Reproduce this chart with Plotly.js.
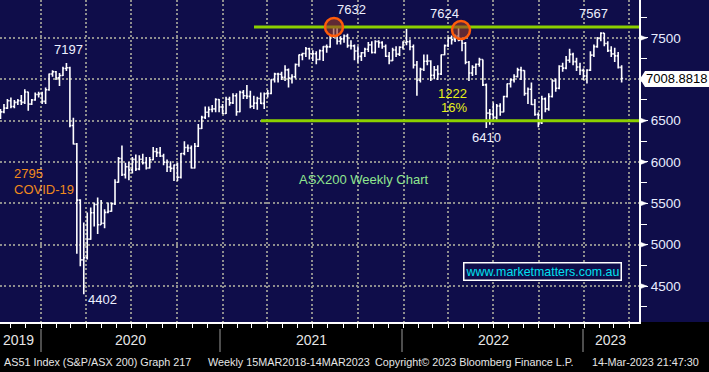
<!DOCTYPE html>
<html>
<head>
<meta charset="utf-8">
<script src="https://cdn.plot.ly/plotly-3.0.1.min.js"></script>
<style>html,body{margin:0;padding:0;background:#000;}#chart{width:709px;height:372px;}</style>
</head>
<body>
<div id="chart"></div>
<script>
// Weekly bars (Friday dates)
const dates = [
'2019-10-11','2019-10-18','2019-10-25','2019-11-01','2019-11-08','2019-11-15','2019-11-22','2019-11-29','2019-12-06','2019-12-13','2019-12-20','2019-12-27',
'2020-01-03','2020-01-10','2020-01-17','2020-01-24','2020-01-31','2020-02-07','2020-02-14','2020-02-21','2020-02-28','2020-03-06','2020-03-13','2020-03-20','2020-03-27',
'2020-04-03','2020-04-10','2020-04-17','2020-04-24','2020-05-01','2020-05-08','2020-05-15','2020-05-22','2020-05-29','2020-06-05','2020-06-12','2020-06-19','2020-06-26',
'2020-07-03','2020-07-10','2020-07-17','2020-07-24','2020-07-31','2020-08-07','2020-08-14','2020-08-21','2020-08-28','2020-09-04','2020-09-11','2020-09-18','2020-09-25',
'2020-10-02','2020-10-09','2020-10-16','2020-10-23','2020-10-30','2020-11-06','2020-11-13','2020-11-20','2020-11-27','2020-12-04','2020-12-11','2020-12-18','2020-12-25',
'2021-01-01','2021-01-08','2021-01-15','2021-01-22','2021-01-29','2021-02-05','2021-02-12','2021-02-19','2021-02-26','2021-03-05','2021-03-12','2021-03-19','2021-03-26',
'2021-04-02','2021-04-09','2021-04-16','2021-04-23','2021-04-30','2021-05-07','2021-05-14','2021-05-21','2021-05-28','2021-06-04','2021-06-11','2021-06-18','2021-06-25',
'2021-07-02','2021-07-09','2021-07-16','2021-07-23','2021-07-30','2021-08-06','2021-08-13','2021-08-20','2021-08-27','2021-09-03','2021-09-10','2021-09-17','2021-09-24',
'2021-10-01','2021-10-08','2021-10-15','2021-10-22','2021-10-29','2021-11-05','2021-11-12','2021-11-19','2021-11-26','2021-12-03','2021-12-10','2021-12-17','2021-12-24','2021-12-31',
'2022-01-07','2022-01-14','2022-01-21','2022-01-28','2022-02-04','2022-02-11','2022-02-18','2022-02-25','2022-03-04','2022-03-11','2022-03-18','2022-03-25',
'2022-04-01','2022-04-08','2022-04-15','2022-04-22','2022-04-29','2022-05-06','2022-05-13','2022-05-20','2022-05-27','2022-06-03','2022-06-10','2022-06-17','2022-06-24',
'2022-07-01','2022-07-08','2022-07-15','2022-07-22','2022-07-29','2022-08-05','2022-08-12','2022-08-19','2022-08-26','2022-09-02','2022-09-09','2022-09-16','2022-09-23','2022-09-30',
'2022-10-07','2022-10-14','2022-10-21','2022-10-28','2022-11-04','2022-11-11','2022-11-18','2022-11-25','2022-12-02','2022-12-09','2022-12-16','2022-12-23','2022-12-30',
'2023-01-06','2023-01-13','2023-01-20','2023-01-27','2023-02-03','2023-02-10','2023-02-17','2023-02-24','2023-03-03','2023-03-10','2023-03-17'
];
const opens = [
6560,6606,6651,6741,6670,6720,6740,6720,6846,6700,6750,6816,
6821,6733,6874,7064,7090,7017,7045,7130,7139,6441,6217,5539,4817,
4842,5068,5387,5487,5242,5260,5391,5405,5497,5756,6043,5847,5942,
5905,6032,5916,6033,5990,5928,6028,6126,6113,6073,5996,5939,5923,
5964,5815,6102,6176,6170,5927,6190,6405,6539,6601,6635,6642,6756,
6665,6587,6758,6715,6800,6607,6841,6800,6793,6673,6711,6767,6708,
6824,6828,6995,7063,7060,7025,7114,7014,7030,7179,7295,7312,7369,
7308,7309,7239,7345,7394,7392,7523,7628,7460,7488,7522,7406,7403,
7342,7276,7320,7362,7415,7324,7457,7443,7396,7279,7225,7354,7304,7387,
7444,7453,7393,7173,6988,7120,7217,7221,7049,7113,7064,7296,
7406,7499,7478,7523,7473,7435,7205,7075,7146,7182,7238,6932,6591,
6578,6539,6676,6605,6791,6945,6993,7033,7114,7105,6828,6879,6695,6574,
6474,6763,6642,6791,6980,6892,7158,7135,7229,7301,7213,7148,7107,
7039,7110,7292,7395,7493,7558,7433,7346,7307,7283,7144
];
const highs = [
6640,6700,6760,6780,6750,6760,6810,6880,6850,6760,6840,6850,
6850,6900,7070,7110,7100,7075,7150,7197,7150,6536,6230,5550,5270,
5390,5450,5510,5570,5540,5430,5510,5510,5790,6060,6200,5990,6000,
6060,6090,6080,6100,6060,6060,6180,6170,6180,6100,6030,6010,5970,
5990,6110,6250,6210,6200,6230,6460,6560,6670,6670,6690,6770,6760,
6700,6790,6790,6830,6830,6860,6870,6930,6860,6800,6790,6840,6840,
6870,7000,7080,7080,7090,7170,7130,7060,7190,7300,7320,7390,7380,
7350,7340,7360,7400,7420,7540,7632,7630,7520,7540,7550,7470,7420,
7400,7330,7380,7450,7460,7470,7470,7460,7420,7330,7380,7400,7400,7460,
7610,7480,7420,7220,7140,7300,7300,7230,7160,7170,7300,7420,
7510,7530,7540,7624,7500,7450,7220,7170,7190,7260,7240,6950,6640,
6720,6700,6710,6800,6950,7010,7060,7140,7150,7110,6900,6960,6760,6600,
6800,6780,6830,7000,7010,7170,7200,7280,7370,7320,7260,7200,7130,
7120,7340,7420,7510,7567,7560,7460,7400,7380,7330,7170
];
const lows = [
6520,6590,6640,6650,6650,6690,6690,6700,6620,6690,6740,6780,
6700,6700,6860,7030,6990,6920,7040,7100,6420,6210,4890,4740,4402,
4820,5060,5220,5130,5240,5200,5380,5400,5480,5750,5830,5800,5780,
5860,5890,5900,5970,5910,5920,6020,6060,6060,5960,5880,5880,5770,
5770,5800,6080,6120,5920,5920,6180,6400,6520,6540,6600,6600,6600,
6580,6580,6680,6700,6560,6600,6760,6760,6650,6640,6630,6700,6640,
6780,6820,6960,6960,6990,6980,6900,6950,7010,7150,7230,7270,7240,
7220,7180,7230,7220,7320,7380,7500,7420,7420,7440,7380,7360,7230,
7200,7220,7270,7330,7310,7310,7380,7370,7270,7180,7220,7270,7280,7360,
7410,7350,7130,6800,6960,7100,7170,6980,7000,6990,7050,7290,
7390,7420,7450,7460,7340,7180,6980,7040,7050,7150,6920,6410,6450,
6500,6510,6560,6600,6780,6900,6960,7020,6990,6800,6700,6690,6560,6420,
6460,6600,6620,6780,6850,6880,7090,7120,7200,7170,7100,7050,6990,
6950,7100,7270,7380,7460,7400,7330,7270,7210,7130,6960
];
const closes = [
6606,6651,6741,6670,6720,6740,6720,6846,6700,6750,6816,6821,
6733,6874,7064,7090,7017,7045,7130,7139,6441,6217,5539,4817,4842,
5068,5387,5487,5242,5260,5391,5405,5497,5756,6043,5847,5942,5905,
6032,5916,6033,5990,5928,6028,6126,6113,6073,5996,5939,5923,5964,
5815,6102,6176,6170,5927,6190,6405,6539,6601,6635,6642,6756,6665,
6587,6758,6715,6800,6607,6841,6800,6793,6673,6711,6767,6708,6824,
6828,6995,7063,7060,7025,7114,7014,7030,7179,7295,7312,7369,7308,
7309,7239,7345,7394,7392,7523,7628,7460,7488,7522,7406,7403,7342,
7276,7320,7362,7415,7324,7457,7443,7396,7279,7225,7354,7304,7387,7444,
7453,7393,7173,6988,7120,7217,7221,7049,7113,7064,7296,7406,
7499,7478,7523,7473,7435,7205,7075,7146,7182,7238,6932,6591,6578,
6539,6676,6605,6791,6945,6993,7033,7114,7105,6828,6879,6695,6574,6474,
6763,6642,6791,6980,6892,7158,7135,7229,7301,7213,7148,7107,7039,
7110,7292,7395,7493,7558,7433,7346,7307,7283,7144,7009
];

// Labels / reference levels
const lastPrice = 7008.8818;
const resistance = 7632;
const support = 6500;
const yTickVals = [4500, 5000, 5500, 6000, 6500, 7000, 7500];
const yTickText = ['4500', '5000', '5500', '6000', '6500', '', '7500'];
const yearLabels = ['2019', '2020', '2021', '2022', '2023'];
const peakLabels = ['7197', '7632', '7624', '7567', '6410', '4402'];
const footerParts = ['AS51 Index (S&P/ASX 200) Graph 217', 'Weekly 15MAR2018-14MAR2023', 'Copyright\u00a9 2023 Bloomberg Finance L.P.', '14-Mar-2023 21:47:30'];

// pixel helpers (plot area 639 x 322)
const PW = 639, PH = 322;
const px = x => x / PW;
const py = y => 1 - y / PH;

const numPos = [[68,49],[351,10],[445,13],[593,13],[486,137],[102,299]];
const annotations = [];
peakLabels.forEach((t,i)=>{
  annotations.push({xref:'paper',yref:'paper',x:px(numPos[i][0]),y:py(numPos[i][1]),text:t,showarrow:false,
    xanchor:'center',yanchor:'middle',font:{family:'Liberation Sans, Arial',size:13,color:'#eef0ff'}});
});
const txt = (t,x,y,color,anchor,size)=>annotations.push({xref:'paper',yref:'paper',x:px(x),y:py(y),text:t,showarrow:false,
  xanchor:anchor||'center',yanchor:'middle',font:{family:'Liberation Sans, Arial',size:size||13,color:color}});
txt('2795',12,173,'#f08a1c','left');
txt('COVID-19',12,189,'#f08a1c','left');
txt(String(7632-6410),452,93,'#e8f018','center');
txt('16%',439,108,'#e8f018','left');
txt('ASX200 Weekly Chart',363,179,'#8fe68f','center');
annotations.push({xref:'paper',yref:'paper',x:px(542),y:py(271),text:'www.marketmatters.com.au',showarrow:false,
  xanchor:'center',yanchor:'middle',bgcolor:'#0f0d4a',bordercolor:'#ffffff',borderwidth:1.5,borderpad:1,
  font:{family:'Liberation Sans, Arial',size:12.4,color:'#00e0f0'}});
// price tag text
annotations.push({xref:'paper',yref:'y',x:px(676),y:lastPrice,text:lastPrice.toFixed(4),showarrow:false,
  xanchor:'center',yanchor:'middle',font:{family:'Liberation Sans, Arial',size:13,color:'#000000'}});
// year labels
const yearX = [18,130,311,493,610];
yearLabels.forEach((t,i)=>annotations.push({xref:'paper',yref:'paper',x:px(yearX[i]),y:py(340),text:t,showarrow:false,
  xanchor:'center',yanchor:'middle',font:{family:'Liberation Sans, Arial',size:14,color:'#e6e6e6'}}));
// footer pieces
const footerX = [2,206,373,590];
const footerW = [195,158,207,115];
footerParts.forEach((t,i)=>annotations.push({xref:'paper',yref:'paper',x:px(footerX[i]),y:py(362),showarrow:false,
  xanchor:'left',yanchor:'middle',align:'left',text:t,font:{family:'Liberation Sans, Arial',size:10.8,color:'#e6e6e6'}}));

const shapes = [];
shapes.push({type:'rect',xref:'paper',yref:'paper',x0:1,x1:px(709),y0:0,y1:1,fillcolor:'#0f0d4a',line:{width:0},layer:'below'});
shapes.push({type:'line',xref:'paper',yref:'y',x0:px(254),x1:1,y0:resistance,y1:resistance,line:{color:'#8cd000',width:3}});
shapes.push({type:'line',xref:'paper',yref:'y',x0:px(261),x1:1,y0:support,y1:support,line:{color:'#8cd000',width:3}});
[[334,27],[461,30]].forEach(c=>shapes.push({type:'circle',xref:'paper',yref:'paper',x0:px(c[0]-9),x1:px(c[0]+9),y0:py(c[1]+9),y1:py(c[1]-9),
  fillcolor:'rgba(150,60,40,0.6)',line:{color:'#ff5c0a',width:2.5}}));
[41,220,402,583].forEach(x=>shapes.push({type:'line',xref:'paper',yref:'paper',x0:px(x),x1:px(x),y0:py(329),y1:py(352),line:{color:'#9a9a9a',width:1}}));
yTickVals.forEach(v=>shapes.push({type:'path',xref:'paper',yref:'y',
  path:`M ${px(640)},${v+32} L ${px(640)},${v-32} L ${px(647)},${v} Z`,fillcolor:'#ffffff',line:{color:'#ffffff',width:0.5}}));
shapes.push({type:'path',xref:'paper',yref:'paper',
  path:`M ${px(640)},${py(79)} L ${px(645)},${py(71)} L ${px(709)},${py(71)} L ${px(709)},${py(87)} L ${px(645)},${py(87)} Z`,
  fillcolor:'#ffffff',line:{color:'#ffffff',width:0}});

const trace = {
  type:'ohlc', x:dates, open:opens, high:highs, low:lows, close:closes,
  increasing:{line:{color:'#ffffff',width:1.6}}, decreasing:{line:{color:'#ffffff',width:1.6}},
  tickwidth:0.42, hoverinfo:'skip', showlegend:false
};

const grid = {gridcolor:'#8e8e8e', griddash:'2px,2.4px', gridwidth:2};
const layout = {
  width:709, height:372, margin:{l:0,r:70,t:0,b:50},
  paper_bgcolor:'#000000', plot_bgcolor:'#0f0d4a', showlegend:false,
  xaxis:Object.assign({type:'date', range:['2019-10-10','2023-04-21'], showgrid:true, tick0:'2020-01-01', dtick:'M3',
    ticks:'outside', ticklen:4, tickcolor:'#ffffff', tickwidth:1, showticklabels:false,
    showline:true, linecolor:'#ffffff', linewidth:2, zeroline:false, rangeslider:{visible:false}, fixedrange:true,
    minor:{dtick:'M1', tick0:'2020-01-01', ticks:'outside', ticklen:4, tickcolor:'#ffffff', tickwidth:1, showgrid:false}}, grid),
  yaxis:Object.assign({side:'right', range:[4066,7958], tickvals:yTickVals, ticktext:yTickText, showgrid:true,
    ticks:'outside', ticklen:7, tickcolor:'#ffffff', tickwidth:1,
    tickfont:{family:'Liberation Sans, Arial', size:13.5, color:'#e8ecff'},
    showline:true, linecolor:'#ffffff', linewidth:2, zeroline:false, fixedrange:true,
    minor:{dtick:250, tick0:0, ticks:'outside', ticklen:6, tickcolor:'#ffffff', tickwidth:1, showgrid:false}}, grid),
  annotations:annotations, shapes:shapes
};
Plotly.newPlot('chart',[trace],layout,{staticPlot:true,displayModeBar:false});
</script>
</body>
</html>
